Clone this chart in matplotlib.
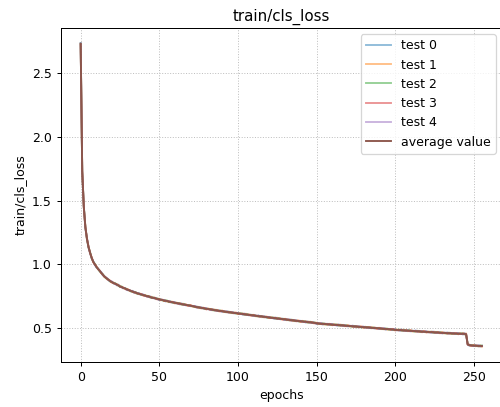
import numpy as np
import matplotlib
matplotlib.use('Agg')
import matplotlib.pyplot as plt

# per-run train/cls_loss values, one per epoch (0..255)
test_0 = [2.734, 1.727, 1.452, 1.285, 1.206, 1.133, 1.091, 1.046, 1.023, 0.999,
          0.976, 0.968, 0.948, 0.940, 0.914, 0.907, 0.894, 0.889, 0.872, 0.867,
          0.864, 0.849, 0.850, 0.835, 0.841, 0.824, 0.823, 0.811, 0.815, 0.804,
          0.796, 0.799, 0.788, 0.792, 0.775, 0.780, 0.771, 0.774, 0.762, 0.763,
          0.762, 0.752, 0.752, 0.743, 0.750, 0.738, 0.738, 0.731, 0.734, 0.727,
          0.720, 0.725, 0.718, 0.721, 0.708, 0.714, 0.707, 0.710, 0.700, 0.702,
          0.702, 0.693, 0.695, 0.686, 0.694, 0.684, 0.685, 0.677, 0.682, 0.676,
          0.671, 0.675, 0.668, 0.672, 0.658, 0.664, 0.659, 0.662, 0.653, 0.654,
          0.655, 0.647, 0.649, 0.640, 0.649, 0.639, 0.640, 0.633, 0.638, 0.633,
          0.628, 0.633, 0.626, 0.632, 0.619, 0.625, 0.621, 0.624, 0.615, 0.618,
          0.619, 0.610, 0.614, 0.605, 0.614, 0.605, 0.606, 0.599, 0.605, 0.599,
          0.595, 0.600, 0.593, 0.599, 0.586, 0.593, 0.588, 0.592, 0.583, 0.585,
          0.587, 0.578, 0.582, 0.573, 0.583, 0.573, 0.575, 0.568, 0.574, 0.568,
          0.564, 0.569, 0.563, 0.568, 0.556, 0.562, 0.558, 0.561, 0.553, 0.555,
          0.557, 0.549, 0.552, 0.544, 0.553, 0.544, 0.546, 0.539, 0.545, 0.539,
          0.533, 0.539, 0.533, 0.539, 0.527, 0.534, 0.530, 0.534, 0.526, 0.529,
          0.531, 0.523, 0.527, 0.519, 0.529, 0.520, 0.522, 0.516, 0.522, 0.517,
          0.513, 0.519, 0.513, 0.519, 0.507, 0.514, 0.510, 0.514, 0.506, 0.509,
          0.511, 0.503, 0.507, 0.499, 0.509, 0.500, 0.502, 0.496, 0.502, 0.497,
          0.493, 0.499, 0.493, 0.499, 0.487, 0.494, 0.490, 0.494, 0.486, 0.489,
          0.490, 0.482, 0.486, 0.479, 0.489, 0.480, 0.482, 0.476, 0.483, 0.478,
          0.474, 0.480, 0.474, 0.481, 0.469, 0.476, 0.472, 0.476, 0.469, 0.472,
          0.474, 0.466, 0.470, 0.463, 0.473, 0.464, 0.466, 0.461, 0.467, 0.462,
          0.458, 0.465, 0.459, 0.465, 0.454, 0.461, 0.457, 0.462, 0.454, 0.458,
          0.460, 0.453, 0.457, 0.450, 0.460, 0.450, 0.373, 0.362, 0.367, 0.362,
          0.358, 0.365, 0.359, 0.365, 0.354, 0.361]

test_1 = [2.727, 1.735, 1.448, 1.293, 1.196, 1.141, 1.089, 1.052, 1.015, 1.004,
          0.983, 0.960, 0.952, 0.932, 0.924, 0.899, 0.896, 0.883, 0.880, 0.862,
          0.857, 0.857, 0.846, 0.843, 0.831, 0.832, 0.821, 0.817, 0.807, 0.809,
          0.803, 0.791, 0.792, 0.784, 0.785, 0.772, 0.773, 0.768, 0.770, 0.758,
          0.755, 0.760, 0.748, 0.751, 0.740, 0.746, 0.736, 0.737, 0.726, 0.732,
          0.727, 0.717, 0.722, 0.713, 0.718, 0.706, 0.709, 0.704, 0.708, 0.697,
          0.695, 0.701, 0.691, 0.694, 0.684, 0.692, 0.683, 0.683, 0.674, 0.681,
          0.678, 0.667, 0.672, 0.664, 0.668, 0.656, 0.661, 0.656, 0.661, 0.649,
          0.648, 0.655, 0.645, 0.648, 0.639, 0.647, 0.638, 0.639, 0.630, 0.638,
          0.635, 0.625, 0.630, 0.624, 0.629, 0.617, 0.623, 0.618, 0.623, 0.613,
          0.612, 0.618, 0.610, 0.613, 0.604, 0.613, 0.604, 0.605, 0.597, 0.604,
          0.602, 0.592, 0.597, 0.591, 0.596, 0.585, 0.590, 0.586, 0.591, 0.580,
          0.580, 0.586, 0.578, 0.581, 0.573, 0.581, 0.573, 0.574, 0.566, 0.573,
          0.571, 0.561, 0.567, 0.560, 0.566, 0.554, 0.560, 0.555, 0.561, 0.550,
          0.550, 0.557, 0.548, 0.552, 0.543, 0.552, 0.544, 0.545, 0.537, 0.544,
          0.540, 0.531, 0.537, 0.531, 0.537, 0.526, 0.532, 0.528, 0.534, 0.524,
          0.524, 0.531, 0.523, 0.527, 0.519, 0.528, 0.520, 0.522, 0.514, 0.522,
          0.520, 0.511, 0.517, 0.511, 0.517, 0.506, 0.512, 0.508, 0.514, 0.504,
          0.504, 0.511, 0.503, 0.507, 0.499, 0.508, 0.500, 0.502, 0.494, 0.502,
          0.500, 0.491, 0.497, 0.491, 0.497, 0.486, 0.492, 0.488, 0.494, 0.484,
          0.483, 0.490, 0.482, 0.487, 0.479, 0.488, 0.480, 0.482, 0.475, 0.483,
          0.481, 0.472, 0.478, 0.473, 0.479, 0.468, 0.474, 0.470, 0.477, 0.467,
          0.467, 0.474, 0.466, 0.471, 0.463, 0.472, 0.464, 0.467, 0.459, 0.467,
          0.465, 0.457, 0.463, 0.457, 0.464, 0.453, 0.459, 0.456, 0.462, 0.453,
          0.453, 0.461, 0.453, 0.458, 0.450, 0.458, 0.371, 0.368, 0.359, 0.367,
          0.365, 0.357, 0.363, 0.357, 0.364, 0.353]

test_2 = [2.731, 1.728, 1.454, 1.292, 1.197, 1.131, 1.095, 1.049, 1.022, 1.003,
          0.979, 0.967, 0.946, 0.933, 0.923, 0.909, 0.890, 0.886, 0.873, 0.863,
          0.861, 0.850, 0.852, 0.842, 0.832, 0.822, 0.827, 0.814, 0.814, 0.808,
          0.799, 0.798, 0.786, 0.785, 0.784, 0.782, 0.767, 0.771, 0.763, 0.759,
          0.759, 0.753, 0.754, 0.750, 0.741, 0.736, 0.742, 0.734, 0.733, 0.731,
          0.723, 0.724, 0.716, 0.714, 0.717, 0.716, 0.703, 0.707, 0.701, 0.698,
          0.699, 0.694, 0.697, 0.693, 0.685, 0.682, 0.689, 0.680, 0.681, 0.680,
          0.674, 0.674, 0.666, 0.665, 0.667, 0.666, 0.655, 0.659, 0.654, 0.650,
          0.652, 0.648, 0.651, 0.647, 0.640, 0.637, 0.644, 0.636, 0.637, 0.637,
          0.631, 0.632, 0.624, 0.625, 0.628, 0.627, 0.617, 0.621, 0.616, 0.614,
          0.616, 0.611, 0.616, 0.612, 0.605, 0.603, 0.610, 0.602, 0.604, 0.603,
          0.598, 0.599, 0.591, 0.592, 0.595, 0.595, 0.584, 0.589, 0.584, 0.581,
          0.584, 0.579, 0.584, 0.580, 0.574, 0.571, 0.579, 0.571, 0.573, 0.572,
          0.567, 0.568, 0.561, 0.561, 0.565, 0.564, 0.554, 0.558, 0.554, 0.551,
          0.554, 0.550, 0.554, 0.551, 0.544, 0.542, 0.550, 0.542, 0.544, 0.543,
          0.536, 0.538, 0.531, 0.532, 0.536, 0.536, 0.526, 0.531, 0.527, 0.525,
          0.528, 0.524, 0.529, 0.526, 0.520, 0.518, 0.526, 0.519, 0.521, 0.521,
          0.516, 0.518, 0.511, 0.512, 0.516, 0.516, 0.506, 0.511, 0.507, 0.505,
          0.508, 0.504, 0.509, 0.506, 0.500, 0.498, 0.506, 0.499, 0.501, 0.501,
          0.496, 0.498, 0.491, 0.492, 0.496, 0.496, 0.486, 0.491, 0.487, 0.485,
          0.487, 0.483, 0.488, 0.486, 0.480, 0.478, 0.486, 0.479, 0.482, 0.482,
          0.477, 0.479, 0.472, 0.474, 0.478, 0.478, 0.468, 0.473, 0.470, 0.468,
          0.471, 0.467, 0.472, 0.470, 0.464, 0.462, 0.470, 0.464, 0.466, 0.466,
          0.461, 0.464, 0.457, 0.458, 0.463, 0.463, 0.453, 0.459, 0.455, 0.454,
          0.457, 0.454, 0.459, 0.457, 0.451, 0.448, 0.377, 0.365, 0.366, 0.366,
          0.361, 0.364, 0.357, 0.358, 0.363, 0.363]

test_3 = [2.725, 1.731, 1.447, 1.294, 1.202, 1.134, 1.087, 1.055, 1.018, 0.996,
          0.985, 0.964, 0.953, 0.931, 0.918, 0.906, 0.898, 0.880, 0.877, 0.870,
          0.855, 0.853, 0.845, 0.844, 0.837, 0.825, 0.819, 0.820, 0.810, 0.801,
          0.805, 0.795, 0.793, 0.783, 0.779, 0.779, 0.775, 0.765, 0.767, 0.766,
          0.753, 0.756, 0.747, 0.752, 0.746, 0.739, 0.734, 0.740, 0.729, 0.724,
          0.729, 0.721, 0.723, 0.712, 0.712, 0.713, 0.711, 0.701, 0.705, 0.705,
          0.693, 0.697, 0.690, 0.695, 0.690, 0.685, 0.681, 0.686, 0.677, 0.673,
          0.680, 0.671, 0.673, 0.663, 0.662, 0.663, 0.663, 0.653, 0.658, 0.657,
          0.646, 0.651, 0.644, 0.649, 0.645, 0.640, 0.636, 0.642, 0.633, 0.630,
          0.637, 0.629, 0.631, 0.623, 0.623, 0.624, 0.625, 0.615, 0.620, 0.621,
          0.610, 0.614, 0.609, 0.614, 0.610, 0.606, 0.602, 0.608, 0.600, 0.596,
          0.604, 0.596, 0.598, 0.590, 0.590, 0.592, 0.592, 0.583, 0.588, 0.588,
          0.578, 0.582, 0.577, 0.582, 0.579, 0.574, 0.571, 0.577, 0.569, 0.565,
          0.573, 0.565, 0.568, 0.559, 0.560, 0.561, 0.562, 0.552, 0.558, 0.558,
          0.548, 0.553, 0.547, 0.553, 0.549, 0.545, 0.542, 0.548, 0.540, 0.536,
          0.542, 0.535, 0.538, 0.530, 0.531, 0.533, 0.534, 0.525, 0.531, 0.532,
          0.522, 0.527, 0.522, 0.528, 0.525, 0.521, 0.518, 0.525, 0.517, 0.514,
          0.522, 0.515, 0.518, 0.510, 0.511, 0.513, 0.514, 0.505, 0.511, 0.512,
          0.502, 0.507, 0.502, 0.508, 0.505, 0.501, 0.498, 0.505, 0.497, 0.494,
          0.502, 0.495, 0.498, 0.490, 0.491, 0.493, 0.494, 0.485, 0.491, 0.492,
          0.481, 0.486, 0.481, 0.488, 0.485, 0.481, 0.478, 0.485, 0.478, 0.475,
          0.483, 0.476, 0.479, 0.472, 0.473, 0.475, 0.476, 0.467, 0.474, 0.475,
          0.465, 0.470, 0.465, 0.472, 0.469, 0.465, 0.462, 0.470, 0.462, 0.459,
          0.467, 0.461, 0.464, 0.456, 0.458, 0.460, 0.461, 0.453, 0.459, 0.461,
          0.451, 0.457, 0.452, 0.459, 0.456, 0.451, 0.369, 0.371, 0.362, 0.359,
          0.367, 0.361, 0.364, 0.356, 0.358, 0.360]

test_4 = [2.733, 1.729, 1.449, 1.286, 1.199, 1.136, 1.088, 1.048, 1.022, 0.998,
          0.977, 0.966, 0.951, 0.939, 0.921, 0.904, 0.897, 0.887, 0.873, 0.868,
          0.863, 0.851, 0.847, 0.836, 0.834, 0.827, 0.820, 0.813, 0.814, 0.803,
          0.797, 0.797, 0.791, 0.791, 0.782, 0.777, 0.774, 0.772, 0.763, 0.764,
          0.761, 0.754, 0.749, 0.744, 0.743, 0.741, 0.735, 0.733, 0.733, 0.726,
          0.721, 0.723, 0.721, 0.720, 0.715, 0.711, 0.710, 0.708, 0.701, 0.703,
          0.701, 0.695, 0.692, 0.687, 0.687, 0.687, 0.682, 0.679, 0.681, 0.675,
          0.672, 0.673, 0.671, 0.671, 0.665, 0.661, 0.662, 0.660, 0.654, 0.655,
          0.654, 0.649, 0.646, 0.641, 0.642, 0.642, 0.637, 0.635, 0.637, 0.632,
          0.629, 0.631, 0.629, 0.631, 0.626, 0.622, 0.624, 0.622, 0.616, 0.619,
          0.618, 0.612, 0.611, 0.606, 0.607, 0.608, 0.603, 0.601, 0.604, 0.598,
          0.596, 0.598, 0.596, 0.598, 0.593, 0.590, 0.591, 0.590, 0.584, 0.586,
          0.586, 0.580, 0.579, 0.574, 0.576, 0.576, 0.572, 0.570, 0.573, 0.567,
          0.565, 0.567, 0.566, 0.567, 0.563, 0.559, 0.561, 0.559, 0.554, 0.556,
          0.556, 0.551, 0.549, 0.545, 0.546, 0.547, 0.543, 0.541, 0.544, 0.538,
          0.534, 0.537, 0.536, 0.538, 0.534, 0.531, 0.533, 0.532, 0.527, 0.530,
          0.530, 0.525, 0.524, 0.520, 0.522, 0.523, 0.519, 0.518, 0.521, 0.516,
          0.514, 0.517, 0.516, 0.518, 0.514, 0.511, 0.513, 0.512, 0.507, 0.510,
          0.510, 0.505, 0.504, 0.500, 0.502, 0.503, 0.499, 0.498, 0.501, 0.496,
          0.494, 0.497, 0.496, 0.498, 0.494, 0.491, 0.493, 0.492, 0.487, 0.490,
          0.489, 0.484, 0.483, 0.480, 0.482, 0.483, 0.479, 0.478, 0.482, 0.477,
          0.475, 0.478, 0.477, 0.480, 0.476, 0.473, 0.475, 0.474, 0.470, 0.473,
          0.473, 0.468, 0.467, 0.464, 0.466, 0.467, 0.463, 0.463, 0.466, 0.461,
          0.459, 0.463, 0.462, 0.464, 0.461, 0.458, 0.460, 0.460, 0.455, 0.459,
          0.459, 0.455, 0.454, 0.451, 0.453, 0.453, 0.370, 0.364, 0.366, 0.361,
          0.359, 0.363, 0.362, 0.364, 0.361, 0.358]

tests = [test_0, test_1, test_2, test_3, test_4]
labels = ['test 0', 'test 1', 'test 2', 'test 3', 'test 4']
epochs = np.arange(len(test_0))
average = np.mean(np.array(tests), axis=0)

# drawn at 90 dpi so text and lines come out at the reference's scale
fig = plt.figure(figsize=(500 / 90, 407 / 90), dpi=90)
ax = fig.add_axes([0.1212, 0.1106, 0.8826, 0.8206])

for i in range(len(tests)):
    ax.plot(epochs, tests[i], color='C%d' % i, alpha=0.5, linewidth=1.5, label=labels[i])
ax.plot(epochs, average, color='C5', linewidth=1.5, label='average value')

ax.set_title('train/cls_loss')
ax.set_xlabel('epochs')
ax.set_ylabel('train/cls_loss')
ax.grid(True, linestyle=':', color='0.75')
ax.legend(loc='upper right')

plt.savefig('out.png', dpi=90)
